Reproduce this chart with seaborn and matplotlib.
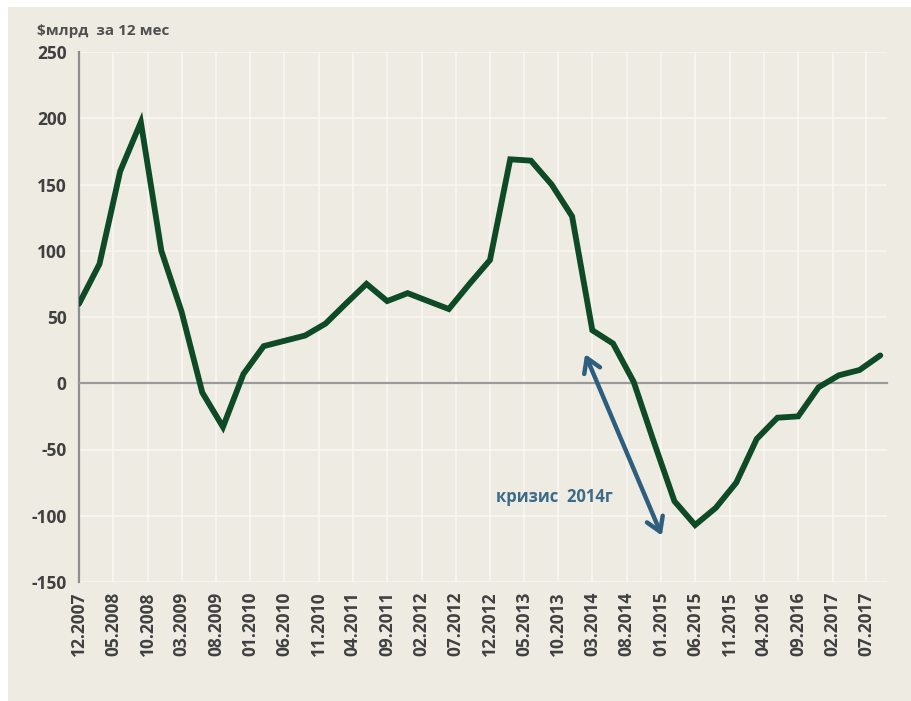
import pandas as pd
import matplotlib
matplotlib.use('Agg')
import matplotlib.pyplot as plt
from matplotlib.patches import Rectangle
import seaborn as sns

# quarterly points, 12.2007 .. 09.2017
dates = pd.date_range('2007-12-01', periods=40, freq='3MS')
values = [60, 90, 160, 197, 100, 54, -7, -33, 7, 28,
          32, 36, 45, 60, 75, 62, 68, 62, 56, 75,
          93, 169, 168, 150, 126, 40, 30, 1, -45, -89,
          -107, -94, -75, -42, -26, -25, -3, 6, 10, 21]

tick_dates = pd.date_range('2007-12-01', periods=24, freq='5MS')
tick_labels = [d.strftime('%m.%Y') for d in tick_dates]
y_ticks = [-150, -100, -50, 0, 50, 100, 150, 200, 250]

ylabel = '$млрд  за 12 мес'
note = 'кризис  2014г'

df = pd.DataFrame({'date': dates, 'value': values})

bg = '#EEEBE2'
sns.set_style('white', {'axes.facecolor': bg})
plt.rcParams['font.family'] = ['Open Sans', 'DejaVu Sans']
plt.rcParams['axes.unicode_minus'] = False

fig = plt.figure(figsize=(9.12, 7.01), dpi=100, facecolor='white')
fig.patches.append(Rectangle((8 / 912, 0), 1, 1 - 7 / 701, transform=fig.transFigure,
                             facecolor=bg, edgecolor='none', zorder=-10))
ax = fig.add_axes([79 / 912, 119 / 701, (887 - 79) / 912, 530 / 701])
ax.set_facecolor(bg)

sns.lineplot(data=df, x='date', y='value', ax=ax, color='#0E4A26', linewidth=4.2,
             solid_joinstyle='miter', zorder=5)

ax.set_xlim(pd.Timestamp('2007-12-01'), pd.Timestamp('2017-10-01'))
ax.set_ylim(-150, 250)
ax.set_yticks(y_ticks)
ax.set_xticks(tick_dates)
ax.grid(True, color='#FAF8F3', linewidth=1.1)
ax.set_xlabel('')
ax.set_ylabel('')

for s in ['top', 'right']:
    ax.spines[s].set_visible(False)
ax.spines['left'].set_color('#8E8E8E')
ax.spines['left'].set_linewidth(1.6)
ax.spines['bottom'].set_position(('data', 0))
ax.spines['bottom'].set_color('#9A9A9A')
ax.spines['bottom'].set_linewidth(1.6)
ax.tick_params(axis='x', labelbottom=False, direction='out', length=4,
               color='#9A9A9A', width=1.2)
ax.tick_params(axis='y', direction='out', length=5, color='#8E8E8E', width=1.2,
               labelsize=12.5, labelcolor='#404040', pad=4)
for t in ax.get_yticklabels():
    t.set_fontweight('bold')

sec = ax.secondary_xaxis('bottom')
sec.set_xticks(tick_dates)
sec.set_xticklabels(tick_labels, rotation=90, fontsize=12.5, color='#404040',
                    fontweight='bold')
sec.tick_params(length=0, pad=7)
sec.spines['bottom'].set_visible(False)

ax.annotate('', xy=(pd.Timestamp('2014-01-28'), 22),
            xytext=(pd.Timestamp('2015-01-04'), -115),
            arrowprops=dict(arrowstyle='<->, head_length=0.45, head_width=0.28',
                            color='#2D5E7E', lw=3.2, mutation_scale=22,
                            shrinkA=0, shrinkB=0), zorder=6)
ax.text(pd.Timestamp('2013-09-15'), -86, note, ha='center', va='center',
        fontsize=12, fontweight='bold', color='#3B6B89')

fig.text(37 / 912, 1 - 31 / 701, ylabel, ha='left', va='center', fontsize=11,
         color='#505050', fontweight='bold')

fig.savefig('out.png', dpi=100, facecolor=fig.get_facecolor())
